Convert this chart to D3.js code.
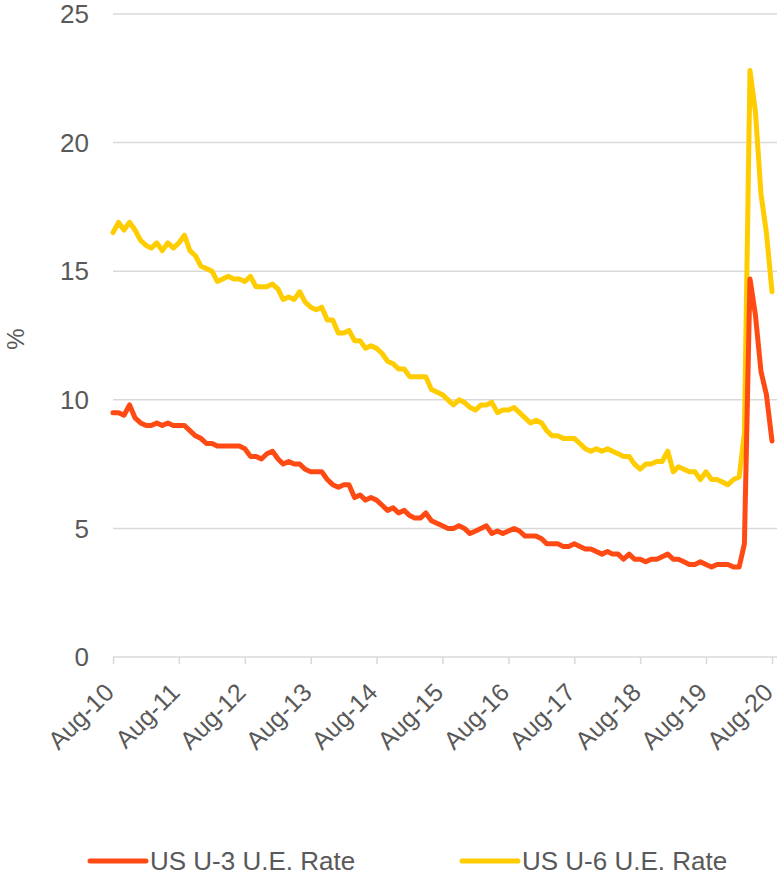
<!DOCTYPE html>
<html><head><meta charset="utf-8">
<script src="https://cdn.jsdelivr.net/npm/d3@7"></script>
<style>body{margin:0;background:#fff}svg{display:block;font-family:Arial,"Liberation Sans",sans-serif}</style>
</head><body><svg id="c" width="779" height="875"></svg>
<script>
const startMonth = "2010-08";
const u3 = [9.5,9.5,9.4,9.8,9.3,
9.1,9.0,9.0,9.1,9.0,9.1,9.0,9.0,9.0,8.8,8.6,8.5,
8.3,8.3,8.2,8.2,8.2,8.2,8.2,8.1,7.8,7.8,7.7,7.9,
8.0,7.7,7.5,7.6,7.5,7.5,7.3,7.2,7.2,7.2,6.9,6.7,
6.6,6.7,6.7,6.2,6.3,6.1,6.2,6.1,5.9,5.7,5.8,5.6,
5.7,5.5,5.4,5.4,5.6,5.3,5.2,5.1,5.0,5.0,5.1,5.0,
4.8,4.9,5.0,5.1,4.8,4.9,4.8,4.9,5.0,4.9,4.7,4.7,
4.7,4.6,4.4,4.4,4.4,4.3,4.3,4.4,4.3,4.2,4.2,4.1,
4.0,4.1,4.0,4.0,3.8,4.0,3.8,3.8,3.7,3.8,3.8,3.9,
4.0,3.8,3.8,3.7,3.6,3.6,3.7,3.6,3.5,3.6,3.6,3.6,
3.5,3.5,4.4,14.7,13.3,11.1,10.2,8.4];
const u6 = [16.5,16.9,16.6,16.9,16.6,
16.2,16.0,15.9,16.1,15.8,16.1,15.9,16.1,16.4,15.8,15.6,15.2,
15.1,15.0,14.6,14.7,14.8,14.7,14.7,14.6,14.8,14.4,14.4,14.4,
14.5,14.3,13.9,14.0,13.9,14.2,13.8,13.6,13.5,13.6,13.1,13.1,
12.6,12.6,12.7,12.3,12.3,12.0,12.1,12.0,11.8,11.5,11.4,11.2,
11.2,10.9,10.9,10.9,10.9,10.4,10.3,10.2,10.0,9.8,10.0,9.9,
9.7,9.6,9.8,9.8,9.9,9.5,9.6,9.6,9.7,9.5,9.3,9.1,
9.2,9.1,8.8,8.6,8.6,8.5,8.5,8.5,8.3,8.1,8.0,8.1,
8.0,8.1,8.0,7.9,7.8,7.8,7.5,7.3,7.5,7.5,7.6,7.6,
8.0,7.2,7.4,7.3,7.2,7.2,6.9,7.2,6.9,6.9,6.8,6.7,
6.9,7.0,8.7,22.8,21.2,18.0,16.5,14.2];
const yTicks = [0,5,10,15,20,25];
const xTickMonths = [0,12,24,36,48,60,72,84,96,108,120];
const seriesNames = ["US U-3 U.E. Rate","US U-6 U.E. Rate"];
const seriesColors = ["#ff4a14","#ffcc00"];

const parse = d3.timeParse("%Y-%m");
const t0 = parse(startMonth);
const dates = u3.map((_, i) => d3.timeMonth.offset(t0, i));
const fmt = d3.timeFormat("%b-%y");

const svg = d3.select("#c");
const x = d3.scaleTime().domain([dates[0], dates[dates.length-1]]).range([113, 772]);
const y = d3.scaleLinear().domain([0, 25]).range([657, 14]);
const textCol = "#595959";

// gridlines
svg.append("g").selectAll("line").data(yTicks.filter(d => d > 0)).join("line")
  .attr("x1", 113).attr("x2", 777).attr("y1", d => y(d)).attr("y2", d => y(d))
  .attr("stroke", "#d9d9d9").attr("stroke-width", 1.5);

// y labels
svg.append("g").selectAll("text").data(yTicks).join("text")
  .attr("x", 89).attr("y", d => y(d)).attr("dy", "0.35em")
  .attr("text-anchor", "end").attr("font-size", 26).attr("fill", textCol).text(d => d);

// x axis
const xAxis = d3.axisBottom(x).tickValues(xTickMonths.map(i => dates[i])).tickFormat(fmt).tickSize(7).tickSizeOuter(0);
const gx = svg.append("g").attr("transform", `translate(0,${y(0)})`).call(xAxis);
gx.select(".domain").attr("stroke", "#d9d9d9").attr("stroke-width", 1.5).attr("d", `M113,0H777`);
gx.selectAll(".tick line").attr("stroke", "#d9d9d9").attr("stroke-width", 1.5);
gx.selectAll(".tick text").attr("font-size", 25).attr("fill", textCol).attr("font-family", "Arial, 'Liberation Sans', sans-serif")
  .attr("text-anchor", "end").attr("y", 0).attr("dy", 0)
  .attr("transform", "translate(2,37) rotate(-45)");

// y title
svg.append("text").attr("transform", "translate(24,339) rotate(-90)")
  .attr("text-anchor", "middle").attr("font-size", 24).attr("fill", textCol).text("%");

// lines
const line = d3.line().x((d, i) => x(dates[i])).y(d => y(d));
[u6, u3].forEach((s, k) => {
  const idx = k === 0 ? 1 : 0;
  svg.append("path").datum(s).attr("d", line).attr("fill", "none")
    .attr("stroke", seriesColors[idx]).attr("stroke-width", 5)
    .attr("stroke-linejoin", "round").attr("stroke-linecap", "round");
});

// legend
const legX = [90, 462];
seriesNames.forEach((n, i) => {
  const g = svg.append("g");
  g.append("line").attr("x1", legX[i]).attr("x2", legX[i] + 56).attr("y1", 861).attr("y2", 861)
    .attr("stroke", seriesColors[i]).attr("stroke-width", 5).attr("stroke-linecap", "round");
  g.append("text").attr("x", legX[i] + 60).attr("y", 870).attr("font-size", 26).attr("fill", textCol).text(n);
});
</script></body></html>
